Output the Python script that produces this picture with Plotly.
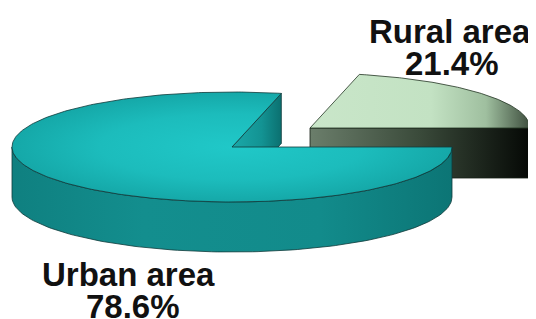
import numpy as np
import plotly.graph_objects as go

categories = ["Rural area", "Urban area"]
values = [21.4, 78.6]
label_pct = ["21.4%", "78.6%"]

W, H = 536, 319
OFF = 8                # page body margin compensation
CX, CY = 232, 147      # pie centre (screen px)
A, B = 220, 55         # ellipse semi axes
DEPTH = 50
PULL = (78, -19)       # explode offset for rural slice

fig = go.Figure()

def arc(cx, cy, t0, t1, n=120, dy=0):
    t = np.radians(np.linspace(t0, t1, n))
    return cx + A * np.cos(t), cy - B * np.sin(t) + dy

def poly(x, y, fillcolor=None, grad=None, line="#173b3b", lw=0.8):
    kw = dict(x=list(x), y=list(y), mode="lines", fill="toself",
              line=dict(color=line, width=lw), hoverinfo="skip", showlegend=False)
    if grad is not None:
        kw["fillgradient"] = grad
    else:
        kw["fillcolor"] = fillcolor
    fig.add_trace(go.Scatter(**kw))

total = sum(values)
angles = np.cumsum([0] + [v / total * 360 for v in values])
r0, r1 = angles[0], angles[1]       # rural
u0, u1 = angles[1], angles[2]       # urban

# ---- Rural slice (exploded) ----
rcx, rcy = CX + PULL[0], CY + PULL[1]
ex, ey = rcx + A * np.cos(np.radians(r0)), rcy - B * np.sin(np.radians(r0))
poly([rcx, ex, ex, rcx, rcx], [rcy, ey, ey + DEPTH, rcy + DEPTH, rcy],
     grad=dict(type="horizontal",
               colorscale=[[0, "#6b7e6b"], [0.5, "#3a4a3a"], [1, "#050805"]]),
     line="#142014")
ax_, ay_ = arc(rcx, rcy, r0, r1)
poly([rcx] + list(ax_) + [rcx], [rcy] + list(ay_) + [rcy],
     grad=dict(type="horizontal",
               colorscale=[[0, "#c9e6c9"], [0.55, "#c3e2c3"], [0.8, "#9fbf9f"], [1, "#3e4e3e"]]),
     line="#223322")

# ---- Urban slice ----
fx, fy = arc(CX, CY, 180, 360)
bx, by = arc(CX, CY, 360, 180, dy=DEPTH)
poly(list(fx) + list(bx) + [fx[0]], list(fy) + list(by) + [fy[0]],
     grad=dict(type="horizontal",
               colorscale=[[0, "#0f8080"], [0.3, "#138e8e"], [0.7, "#128b8b"], [1, "#0c7575"]]),
     line="#0f3a3a")
px_, py_ = CX + A * np.cos(np.radians(u0)), CY - B * np.sin(np.radians(u0))
poly([CX, px_, px_, CX, CX], [CY, py_, py_ + DEPTH, CY + DEPTH, CY],
     grad=dict(type="horizontal",
               colorscale=[[0, "#1aa9a9"], [0.6, "#139393"], [1, "#0b7070"]]),
     line="#0f3a3a")
tx, ty = arc(CX, CY, u0, u1, n=300)
poly([CX] + list(tx) + [CX], [CY] + list(ty) + [CY],
     grad=dict(type="radial",
               colorscale=[[0, "#20c8c8"], [0.6, "#1cbcbc"], [1, "#15a8a8"]]),
     line="#0f3a3a")

# ---- Labels ----
font = dict(family="Liberation Sans, Arial, sans-serif", size=33, color="#111111")
lab = [
    (categories[0], 450, 31), (label_pct[0], 452, 63),
    (categories[1], 128, 274), (label_pct[1], 133, 306),
]
for txt, x, y in lab:
    fig.add_annotation(x=x, y=y, text="<b>%s</b>" % txt, showarrow=False,
                       xanchor="center", yanchor="middle", font=font)

fig.update_layout(
    width=W - OFF, height=H - OFF, margin=dict(l=0, r=0, t=0, b=0),
    paper_bgcolor="white", plot_bgcolor="white",
    xaxis=dict(range=[OFF, W], visible=False, fixedrange=True),
    yaxis=dict(range=[H, OFF], visible=False, fixedrange=True),
)
fig.write_html("out.html")
